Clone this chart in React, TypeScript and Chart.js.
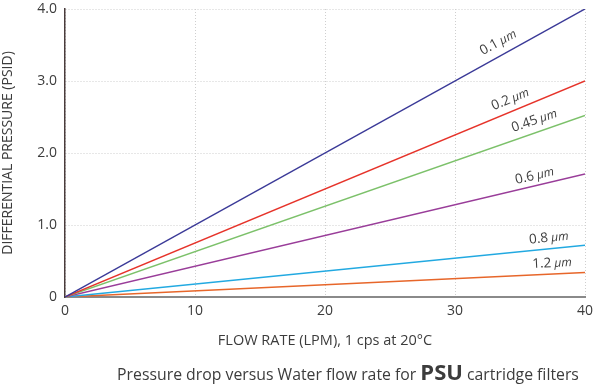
import React, { useEffect, useRef } from "react";
import { Chart, registerables } from "chart.js";

Chart.register(...registerables);

const flowRates = [0, 40];
const seriesNames = ["0.1", "0.2", "0.45", "0.6", "0.8", "1.2"];
const psid01 = [0, 4.0];
const psid02 = [0, 3.0];
const psid045 = [0, 2.52];
const psid06 = [0, 1.71];
const psid08 = [0, 0.72];
const psid12 = [0, 0.34];
const xTicks = [0, 10, 20, 30, 40];
const yTicks = [0, 1, 2, 3, 4];
const seriesValues = [psid01, psid02, psid045, psid06, psid08, psid12];
const colors = ["#3b3a98", "#e6332a", "#7cc16a", "#993d99", "#22a9e1", "#e7662a"];
const labelAt = [33.8, 34.6, 36.4, 36.3, 37.3, 37.5];
const labelLift = [9, 8, 8, 6, 7, 7];

const FONT = "'Open Sans', sans-serif";
const TEXT = "#3c3c3c";

const lineLabels = {
  id: "lineLabels",
  afterDatasetsDraw(chart: any) {
    const { ctx } = chart;
    const xs = chart.scales.x;
    const ys = chart.scales.y;
    chart.data.datasets.forEach((ds: any, i: number) => {
      const d = ds.data;
      const x0 = xs.getPixelForValue(d[0].x);
      const y0 = ys.getPixelForValue(d[0].y);
      const x1 = xs.getPixelForValue(d[1].x);
      const y1 = ys.getPixelForValue(d[1].y);
      const ang = Math.atan2(y1 - y0, x1 - x0);
      const lx = labelAt[i];
      const t = (lx - d[0].x) / (d[1].x - d[0].x);
      const px = xs.getPixelForValue(lx);
      const py = ys.getPixelForValue(d[0].y + t * (d[1].y - d[0].y));
      ctx.save();
      ctx.translate(px, py);
      ctx.rotate(ang);
      ctx.fillStyle = TEXT;
      ctx.textBaseline = "alphabetic";
      const a = ds.label;
      const gap = 3;
      const b = "µm";
      ctx.font = `13.5px ${FONT}`;
      const wa = ctx.measureText(a).width;
      ctx.font = `italic 12px ${FONT}`;
      const wb = ctx.measureText(b).width;
      const start = -(wa + gap + wb) / 2;
      ctx.font = `13.5px ${FONT}`;
      ctx.textAlign = "left";
      ctx.fillText(a, start, -labelLift[i]);
      ctx.font = `italic 12px ${FONT}`;
      ctx.fillText(b, start + wa + gap, -labelLift[i]);
      ctx.restore();
    });
  },
};

const caption = {
  id: "caption",
  afterDraw(chart: any) {
    const { ctx } = chart;
    const p1 = "Pressure drop versus Water flow rate for ";
    const p2 = "PSU";
    const p3 = " cartridge filters";
    ctx.save();
    ctx.fillStyle = TEXT;
    ctx.textBaseline = "alphabetic";
    ctx.textAlign = "left";
    const f1 = `15.8px ${FONT}`;
    const f2 = `bold 22px ${FONT}`;
    ctx.font = f1;
    const w1 = ctx.measureText(p1).width;
    const w3 = ctx.measureText(p3).width;
    ctx.font = f2;
    const w2 = ctx.measureText(p2).width;
    const total = w1 + w2 + w3;
    let x = 348 - total / 2;
    const y = 380;
    ctx.font = f1;
    ctx.fillText(p1, x, y);
    x += w1;
    ctx.font = f2;
    ctx.fillText(p2, x, y);
    x += w2;
    ctx.font = f1;
    ctx.fillText(p3, x, y);
    ctx.restore();
  },
};

export default function App() {
  const ref = useRef<HTMLCanvasElement | null>(null);
  useEffect(() => {
    if (!ref.current) return;
    const chart = new Chart(ref.current, {
      type: "line",
      data: {
        datasets: seriesValues.map((vals, i) => ({
          label: seriesNames[i],
          data: vals.map((v, j) => ({ x: flowRates[j], y: v })),
          borderColor: colors[i],
          backgroundColor: colors[i],
          borderWidth: 1.5,
          pointRadius: 0,
          fill: false,
          tension: 0,
        })),
      },
      options: {
        animation: false,
        responsive: false,
        maintainAspectRatio: false,
        layout: { padding: { top: 9, right: 9, bottom: 22, left: 0 } },
        plugins: {
          legend: { display: false },
          tooltip: { enabled: false },
        },
        scales: {
          x: {
            type: "linear",
            min: 0,
            max: 40,
            afterBuildTicks: (s: any) => {
              s.ticks = xTicks.map((v) => ({ value: v }));
            },
            afterFit: (s: any) => {
              s.height = 65;
              s.paddingLeft = 0;
              s.paddingRight = 0;
            },
            ticks: {
              color: TEXT,
              font: { family: FONT, size: 14 },
              padding: 6,
              maxRotation: 0,
            },
            grid: {
              color: "#cfcfcf",
              lineWidth: 1,
              drawTicks: false,
            },
            border: { color: "#8a8a8a", width: 2, dash: [1, 2] },
            title: {
              display: true,
              text: "FLOW RATE (LPM), 1 cps at 20°C",
              color: TEXT,
              font: { family: FONT, size: 14.5 },
              padding: { top: 10, bottom: 12 },
            },
          },
          y: {
            type: "linear",
            min: 0,
            max: 4,
            afterBuildTicks: (s: any) => {
              s.ticks = yTicks.map((v) => ({ value: v }));
            },
            afterFit: (s: any) => {
              s.width = 65;
              s.paddingTop = 0;
              s.paddingBottom = 0;
            },
            ticks: {
              color: TEXT,
              font: { family: FONT, size: 14 },
              padding: 8,
              callback: (v: any) => (v === 0 ? "0" : Number(v).toFixed(1)),
            },
            grid: {
              color: "#cfcfcf",
              lineWidth: 1,
              drawTicks: false,
            },
            border: { color: "#4a3c3c", width: 1.5, dash: [1, 2] },
            title: {
              display: true,
              text: "DIFFERENTIAL PRESSURE (PSID)",
              color: TEXT,
              font: { family: FONT, size: 14 },
              padding: { top: 0, bottom: 0 },
            },
          },
        },
      },
      plugins: [lineLabels, caption],
    } as any);
    return () => chart.destroy();
  }, []);
  return (
    <div style={{ position: "fixed", left: 0, top: 0, width: 594, height: 384, background: "#fff" }}>
      <canvas ref={ref} width={594} height={384} style={{ width: 594, height: 384 }} />
    </div>
  );
}
